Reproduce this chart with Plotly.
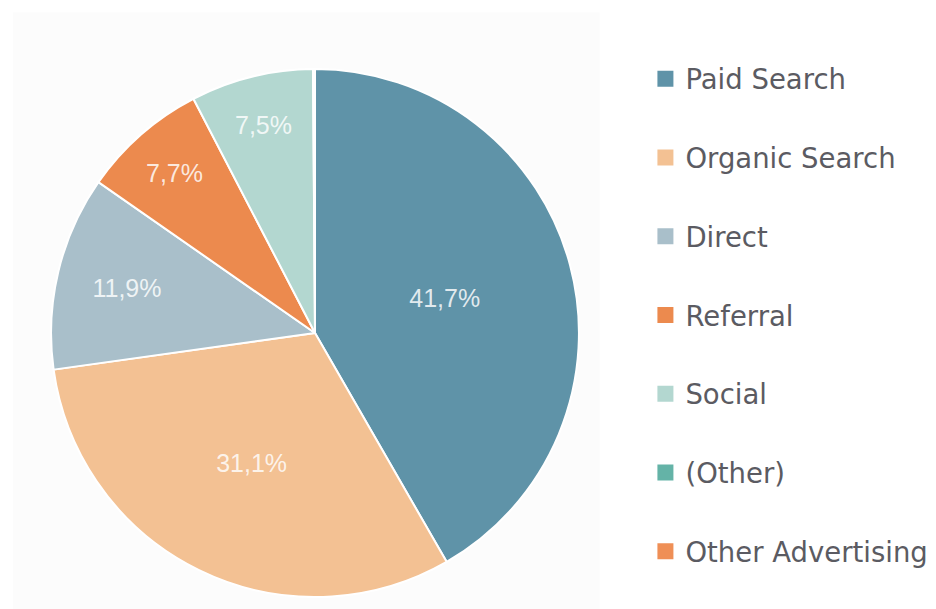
import plotly.graph_objects as go

categories = ["Paid Search", "Organic Search", "Direct", "Referral", "Social", "(Other)", "Other Advertising"]
values = [41.7, 31.1, 11.9, 7.7, 7.5, 0.1, 0.02]
colors = ["#5f93a8", "#f3c193", "#a9bfca", "#ec8a4e", "#b3d7d0", "#64b3a7", "#ef8f56"]

labels_text = [(f"{v:.1f}%".replace(".", ",") if v >= 1 else "") for v in values]

fig = go.Figure()
fig.add_trace(go.Pie(
    labels=categories, values=values, text=labels_text,
    textinfo="text", textposition="inside", insidetextorientation="horizontal",
    textfont=dict(family="Liberation Sans, Arial", size=25, color="rgba(255,255,255,0.82)"),
    marker=dict(colors=colors, line=dict(color="white", width=2)),
    sort=False, direction="clockwise", rotation=0,
    domain=dict(x=[0.046, 0.610], y=[0.0328, 0.8998]),
    showlegend=False, hoverinfo="label+percent",
))

for i, (c, col) in enumerate(zip(categories, colors)):
    fig.add_trace(go.Scatter(
        x=[None], y=[None], mode="markers", name=c, legendgroup=c,
        marker=dict(symbol="square", size=22, color=col),
        showlegend=True,
    ))

fig.update_layout(
    width=936, height=609,
    margin=dict(l=0, r=0, t=0, b=0),
    paper_bgcolor="white", plot_bgcolor="white",
    xaxis=dict(visible=False), yaxis=dict(visible=False),
    legend=dict(
        x=0.681, y=0.924, xanchor="left", yanchor="top",
        font=dict(family="DejaVu Sans, sans-serif", size=27.5, color="#5b5b62"),
        tracegroupgap=40, bgcolor="rgba(0,0,0,0)", itemsizing="trace",
    ),
    shapes=[dict(type="rect", xref="paper", yref="paper", x0=0.0055, x1=0.632, y0=0.0, y1=0.993,
                 fillcolor="#fcfcfc", line=dict(width=0), layer="below")],
)

fig.write_html("out.html")
